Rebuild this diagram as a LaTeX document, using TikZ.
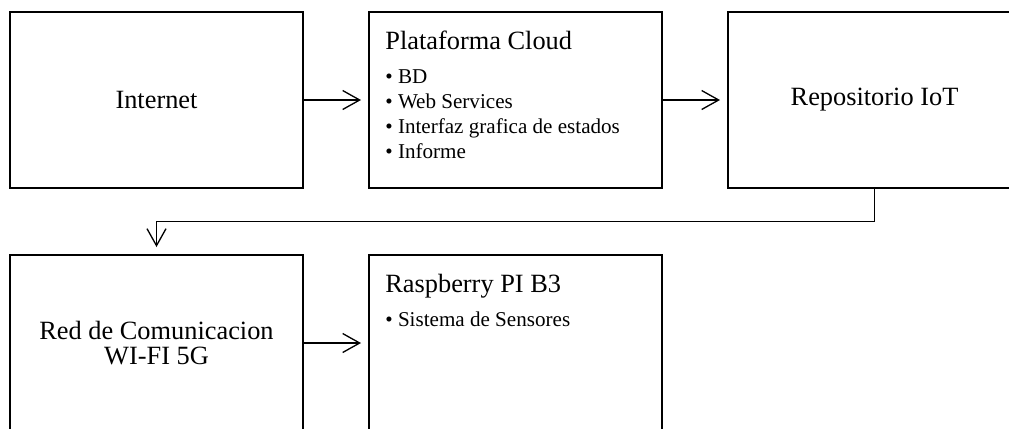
\documentclass[tikz,border=0pt]{standalone}
\usepackage{fontspec}
\setmainfont{Liberation Serif}
\usetikzlibrary{positioning,arrows.meta}
\tikzset{
  block/.style={draw, line width=1.6pt, minimum width=5.86cm, minimum height=3.52cm,
    inner sep=0pt, outer sep=0pt, align=center, font=\fontsize{15}{14.7}\selectfont},
  title/.style={anchor=base west, inner sep=0pt, font=\fontsize{15}{15}\selectfont},
  bullet/.style={anchor=base west, inner sep=0pt, font=\fontsize{12}{14}\selectfont},
  flow/.style={->, line width=0.75pt, shorten >=0.16cm}
}
\begin{document}
\begin{tikzpicture}[>={Straight Barb[length=3.4mm, width=3.8mm]}, node distance=1.34cm and 1.32cm]
  \useasboundingbox (0,0) rectangle (20.18,-8.56);
  \clip (0,0) rectangle (20.18,-8.56);
  % top row
  \node[block] (inet) at (3.13,-2.0) {Internet};
  \node[block, right=of inet] (cloud) {};
  \node[block, right=of cloud] (repo) {Repositorio IoT};
  % bottom row
  \node[block, below=of inet] (red) {Red de Comunicacion\\WI-FI 5G};
  \node[block, right=of red] (rpi) {};
  % box contents
  \node[title] (cloud-t) at ([shift={(0.32,-0.74)}]cloud.north west) {Plataforma Cloud};
  \foreach \txt [count=\i] in {BD, Web Services, Interfaz grafica de estados, Informe}
    \node[bullet] (cloud-\i) at ([shift={(0.32,{-0.92-0.5*\i})}]cloud.north west) {\textbullet\ \txt};
  \node[title] (rpi-t) at ([shift={(0.32,-0.74)}]rpi.north west) {Raspberry PI B3};
  \node[bullet] (rpi-1) at ([shift={(0.32,-1.42)}]rpi.north west) {\textbullet\ Sistema de Sensores};
  % connectors
  \draw[flow] (inet) -- (cloud);
  \draw[flow] (cloud) -- (repo);
  \draw[flow] (repo.south) -- ++(0,-0.67) -| (red);
  \draw[flow] (red) -- (rpi);
\end{tikzpicture}
\end{document}
